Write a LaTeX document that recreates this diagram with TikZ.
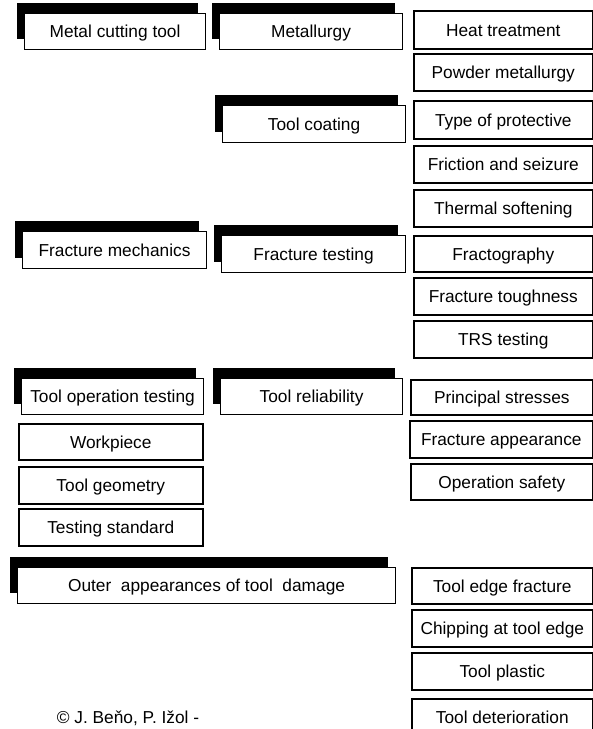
\documentclass[tikz,border=0pt]{standalone}
\usepackage{fontspec}
\setmainfont{Liberation Sans}
\usetikzlibrary{shadows}
\tikzset{
  lbl/.style={font=\fontsize{17.3}{20}\selectfont, inner sep=0pt, align=center, text height=12.4pt, text depth=0pt},
  rbox/.style={lbl, draw=black, line width=1.6pt, fill=white, anchor=north west},
  wbox/.style={lbl, draw=black, line width=1.1pt, fill=white, anchor=north west},
  sbox/.style={wbox, general shadow={fill=black, shadow xshift=-7.5pt, shadow yshift=11pt}},
}
\begin{document}
\begin{tikzpicture}[x=1pt,y=-1pt]
\clip (0,0) rectangle (593,729);
\fill[white] (0,0) rectangle (593,729);
% left column
\node[sbox, minimum width=181pt, minimum height=36pt] (mct) at (24,13) {Metal cutting tool};
\node[sbox, minimum width=183pt, minimum height=36pt] (metal) at (219,13) {Metallurgy};
\node[sbox, minimum width=183pt, minimum height=37pt] (coat) at (222,105) {Tool coating};
\node[sbox, minimum width=184pt, minimum height=37pt] (fmech) at (22,231) {Fracture mechanics};
\node[sbox, minimum width=184pt, minimum height=37pt] (ftest) at (221,235) {Fracture testing};
\node[sbox, minimum width=182pt, minimum height=36pt] (tot) at (21,378) {Tool operation testing};
\node[sbox, minimum width=182pt, minimum height=36pt] (trel) at (220,378) {Tool reliability};
\node[rbox, minimum width=184pt, minimum height=36pt] (work) at (18,423) {Workpiece};
\node[rbox, minimum width=184pt, minimum height=37pt] (geom) at (18,466) {Tool geometry};
\node[rbox, minimum width=184pt, minimum height=37pt] (tstd) at (18,508) {Testing standard};
\node[sbox, minimum width=378pt, minimum height=36pt] (outer) at (17,567) {Outer~ appearances of tool~ damage};
% right column
\node[rbox, minimum width=179pt, minimum height=38pt] (heat) at (413,10) {Heat treatment};
\node[rbox, minimum width=179pt, minimum height=37pt] (powder) at (413,53) {Powder metallurgy};
\node[rbox, minimum width=179pt, minimum height=38pt] (typ) at (413,100) {Type of protective};
\node[rbox, minimum width=179pt, minimum height=37pt] (fric) at (413,145) {Friction and seizure};
\node[rbox, minimum width=179pt, minimum height=37pt] (therm) at (413,189) {Thermal softening};
\node[rbox, minimum width=179pt, minimum height=36pt] (fracto) at (413,235) {Fractography};
\node[rbox, minimum width=179pt, minimum height=37pt] (tough) at (413,277) {Fracture toughness};
\node[rbox, minimum width=179pt, minimum height=37pt] (trs) at (413,320) {TRS testing};
\node[rbox, minimum width=182pt, minimum height=35pt] (prin) at (410,379) {Principal stresses};
\node[rbox, minimum width=183pt, minimum height=37pt] (fapp) at (409,420) {Fracture appearance};
\node[rbox, minimum width=182pt, minimum height=36pt] (osaf) at (410,463) {Operation safety};
\node[rbox, minimum width=181pt, minimum height=36pt] (tef) at (411,567) {Tool edge fracture};
\node[rbox, minimum width=181pt, minimum height=37pt] (chip) at (411,609) {Chipping at tool edge};
\node[rbox, minimum width=181pt, minimum height=37pt] (tplast) at (411,652) {Tool plastic};
\node[rbox, minimum width=181pt, minimum height=36pt] (tdet) at (411,698) {Tool deterioration};
% footer
\node[lbl] (copy) at (128,717) {© J. Beňo, P. Ižol -};
\end{tikzpicture}
\end{document}
